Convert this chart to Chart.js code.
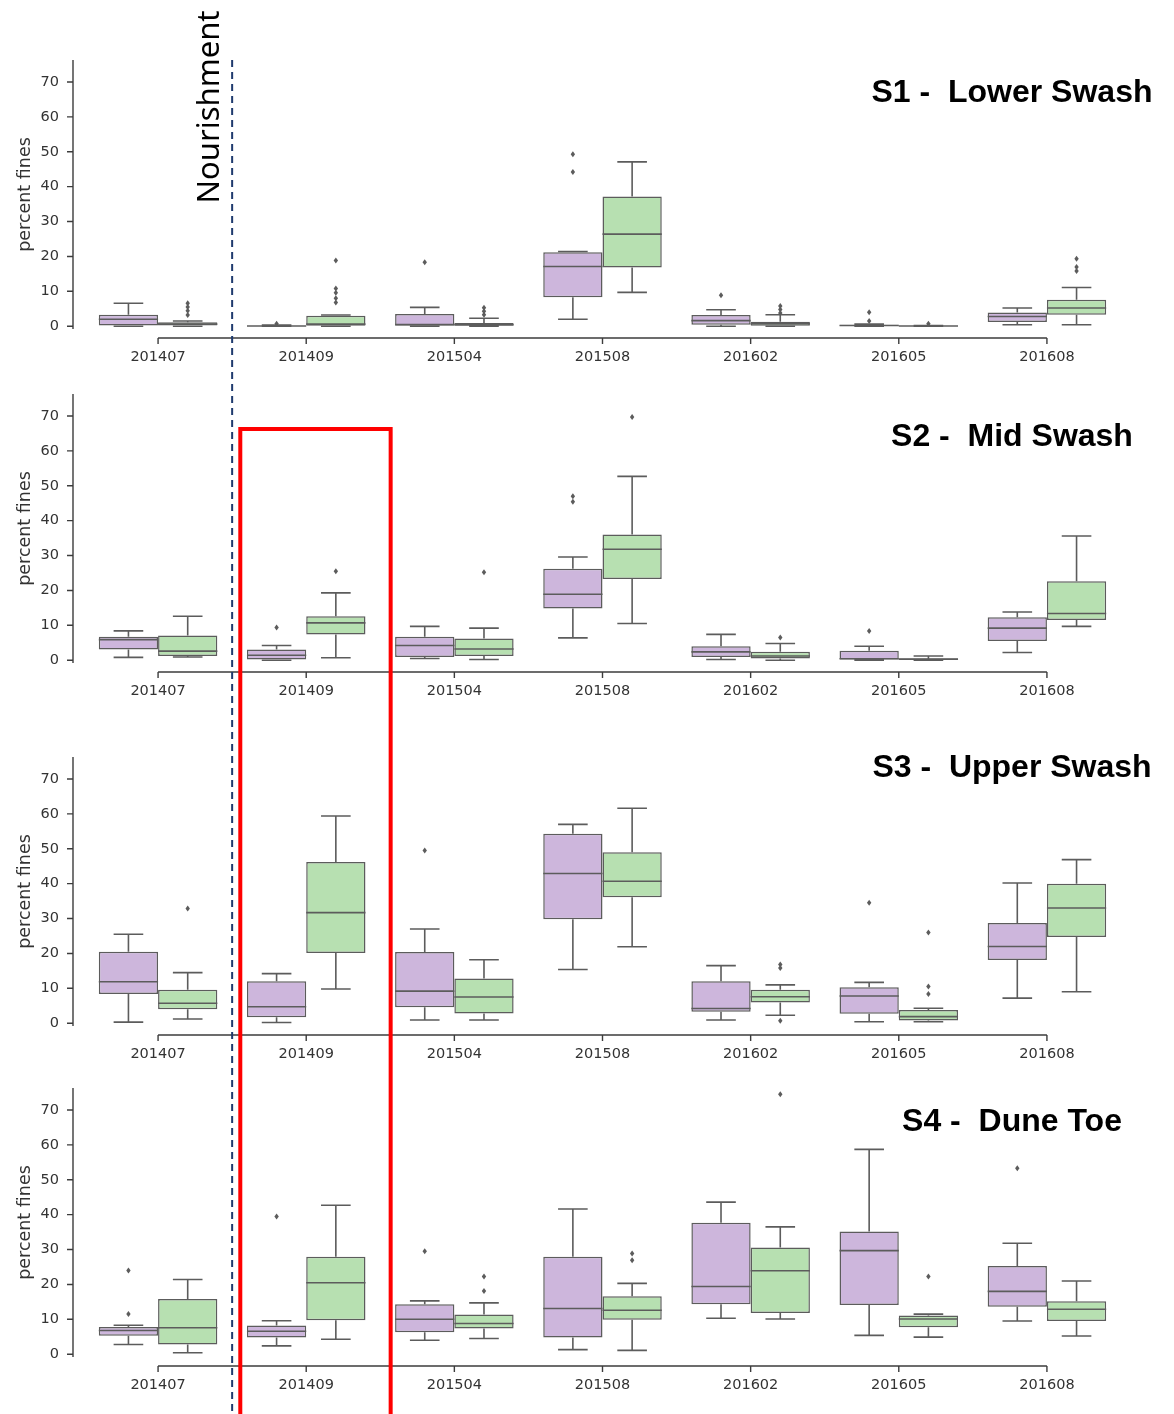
<!DOCTYPE html>
<html lang="en">
<head>
<meta charset="UTF-8">
<title>Percent fines by survey</title>
<script src="https://cdn.jsdelivr.net/npm/chart.js@4.4.1/dist/chart.umd.min.js"></script>
<style>
  html, body { margin: 0; padding: 0; background: #fff; }
  #page { position: relative; width: 1174px; height: 1414px; overflow: hidden; }
  .panel { position: absolute; left: 0; width: 1174px; height: 319px; }
  #overlay { position: absolute; left: 0; top: 0; pointer-events: none; }
</style>
</head>
<body>
<div id="page">
  <canvas id="overlay" width="1174" height="1414"></canvas>
</div>
<script>
// survey dates and y ticks
const dates = ['201407', '201409', '201504', '201508', '201602', '201605', '201608'];
const yTicks = [0, 10, 20, 30, 40, 50, 60, 70];
const panelNames = ['S1 -  Lower Swash', 'S2 -  Mid Swash', 'S3 -  Upper Swash', 'S4 -  Dune Toe'];

// box stats per survey: [whisker low, q1, median, q3, whisker high]
const s1A = [[0, 0.2, 2.0, 3.3, 6.6], [0, 0, 0.05, 0.15, 0.3], [0, 0.1, 0.5, 3.5, 5.4], [2.0, 8.3, 17.1, 21.2, 21.4], [0, 0.4, 1.6, 3.2, 4.7], [0, 0, 0.2, 0.4, 0.6], [0.4, 1.2, 2.8, 3.9, 5.2]];
const s1AOut = [[], [0.7], [18.3], [49.3, 44.2], [8.9], [4.0, 1.5], []];
const s1B = [[0, 0.2, 0.6, 1.1, 1.5], [0, 0.1, 0.6, 3.0, 3.2], [0, 0.1, 0.4, 0.9, 2.3], [9.7, 16.8, 26.4, 37.2, 47.1], [0, 0.1, 0.7, 1.3, 3.3], [0, 0, 0.05, 0.15, 0.2], [0.4, 3.3, 5.2, 7.6, 11.1]];
const s1BOut = [[6.6, 5.5, 4.4, 3.2], [18.8, 10.8, 9.6, 8.0, 6.8], [5.3, 4.3, 3.3], [], [5.8, 4.8, 3.8], [0.7], [19.3, 17.0, 15.8]];

const s2A = [[0.8, 3.1, 5.9, 6.7, 8.4], [0, 0.2, 1.4, 3.1, 4.2], [0.5, 0.9, 4.2, 6.7, 9.7], [6.4, 14.8, 18.9, 26.2, 29.6], [0.2, 0.9, 2.4, 4.0, 7.4], [0, 0.2, 0.4, 2.7, 4.0], [2.2, 5.5, 9.2, 12.3, 13.8]];
const s2AOut = [[], [9.4], [], [47.0, 45.4], [], [8.4], []];
const s2B = [[0.9, 1.2, 2.6, 7.1, 12.6], [0.7, 7.4, 10.7, 12.6, 19.3], [0.2, 1.2, 3.2, 6.2, 9.2], [10.5, 23.3, 31.8, 36.0, 52.7], [0, 0.5, 1.2, 2.4, 4.8], [0, 0.1, 0.3, 0.5, 1.2], [9.7, 11.5, 13.4, 22.6, 35.6]];
const s2BOut = [[], [25.5], [25.2], [69.7], [6.5], [], []];

const s3A = [[0.3, 8.4, 11.9, 20.5, 25.5], [0.2, 1.7, 4.7, 12.0, 14.2], [0.9, 4.6, 9.2, 20.4, 27.0], [15.4, 29.8, 42.9, 54.3, 57.0], [0.9, 3.3, 4.2, 12.0, 16.5], [0.4, 2.7, 7.8, 10.3, 11.7], [7.2, 18.1, 22.0, 28.7, 40.2]];
const s3AOut = [[], [], [49.5], [], [], [34.5], []];
const s3B = [[1.2, 4.0, 5.7, 9.6, 14.5], [9.8, 20.1, 31.7, 46.2, 59.4], [0.9, 2.8, 7.5, 12.8, 18.2], [21.9, 36.1, 40.7, 49.0, 61.6], [2.3, 5.9, 7.6, 9.6, 11.0], [0.4, 0.8, 1.9, 3.8, 4.3], [9.0, 24.7, 33.0, 40.0, 46.9]];
const s3BOut = [[32.9], [], [], [], [16.8, 15.8, 0.7], [26.0, 10.5, 8.4], []];

const s4A = [[2.8, 5.3, 6.8, 7.8, 8.3], [2.4, 4.8, 6.6, 8.2, 9.6], [4.0, 6.3, 10.0, 14.3, 15.3], [1.3, 4.8, 13.1, 27.9, 41.6], [10.3, 14.3, 19.4, 37.7, 43.6], [5.4, 14.1, 29.7, 35.2, 58.7], [9.5, 13.6, 18.0, 25.3, 31.8]];
const s4AOut = [[24.0, 11.5], [39.5], [29.5], [], [], [], [53.3]];
const s4B = [[0.4, 2.8, 7.6, 15.8, 21.4], [4.3, 9.7, 20.5, 27.9, 42.7], [4.5, 7.4, 8.8, 11.4, 14.7], [1.1, 9.9, 12.6, 16.6, 20.3], [10.1, 11.8, 23.9, 30.6, 36.5], [4.9, 7.7, 10.1, 11.1, 11.5], [5.2, 9.5, 12.9, 15.2, 21.0]];
const s4BOut = [[], [], [22.3, 18.1], [28.9, 26.9], [74.5], [22.3], []];

const panels = [
  {a: s1A, aOut: s1AOut, b: s1B, bOut: s1BOut},
  {a: s2A, aOut: s2AOut, b: s2B, bOut: s2BOut},
  {a: s3A, aOut: s3AOut, b: s3B, bOut: s3BOut},
  {a: s4A, aOut: s4AOut, b: s4B, bOut: s4BOut}
];

// layout / style
const PANEL_TOP = [50, 384, 747, 1078];
const TITLE_Y = [43, 53, 21, 44];
const FILL_A = '#cdb6dc';
const FILL_B = '#b7e0b1';
const EDGE = '#5c5c5c';
const AXIS = '#3c3c3c';

Chart.defaults.font.family = '"DejaVu Sans", sans-serif';

// whiskers, medians and fliers on top of the floating bars
const boxWhiskers = {
  id: 'boxWhiskers',
  afterDatasetsDraw(chart) {
    const ctx = chart.ctx;
    const y = chart.scales.y;
    chart.data.datasets.forEach((ds, d) => {
      const meta = chart.getDatasetMeta(d);
      meta.data.forEach((bar, i) => {
        const {x, width} = bar.getProps(['x', 'width'], true);
        const [lo, q1, med, q3, hi] = ds.stats[i];
        const yLo = y.getPixelForValue(lo), yQ1 = y.getPixelForValue(q1);
        const yMed = y.getPixelForValue(med), yQ3 = y.getPixelForValue(q3);
        const yHi = y.getPixelForValue(hi);
        ctx.save();
        ctx.strokeStyle = EDGE;
        ctx.lineWidth = 1.6;
        ctx.beginPath();
        ctx.moveTo(x, yQ3); ctx.lineTo(x, yHi);
        ctx.moveTo(x, yQ1); ctx.lineTo(x, yLo);
        ctx.moveTo(x - width / 4, yHi); ctx.lineTo(x + width / 4, yHi);
        ctx.moveTo(x - width / 4, yLo); ctx.lineTo(x + width / 4, yLo);
        ctx.moveTo(x - width / 2, yMed); ctx.lineTo(x + width / 2, yMed);
        ctx.stroke();
        ctx.fillStyle = EDGE;
        ds.fliers[i].forEach(v => {
          const py = y.getPixelForValue(v);
          ctx.beginPath();
          ctx.moveTo(x, py - 3);
          ctx.lineTo(x + 2.2, py);
          ctx.lineTo(x, py + 3);
          ctx.lineTo(x - 2.2, py);
          ctx.closePath();
          ctx.fill();
        });
        ctx.restore();
      });
    });
  }
};

// seaborn-like offset axes and the panel title
const offsetAxes = {
  id: 'offsetAxes',
  afterDraw(chart, args, opts) {
    const {ctx, chartArea: a, scales: {x, y}} = chart;
    ctx.save();
    ctx.strokeStyle = AXIS;
    ctx.lineWidth = 1.4;
    ctx.beginPath();
    const ax = a.left - 11;
    ctx.moveTo(ax, a.top); ctx.lineTo(ax, a.bottom);
    yTicks.forEach(v => {
      const py = y.getPixelForValue(v);
      ctx.moveTo(ax - 6, py); ctx.lineTo(ax, py);
    });
    const ay = a.bottom + 9;
    ctx.moveTo(x.getPixelForValue(0), ay);
    ctx.lineTo(x.getPixelForValue(dates.length - 1), ay);
    dates.forEach((d, i) => {
      const px = x.getPixelForValue(i);
      ctx.moveTo(px, ay); ctx.lineTo(px, ay + 6);
    });
    ctx.stroke();
    ctx.fillStyle = '#000';
    ctx.font = 'bold 32px "Liberation Sans", Arial, sans-serif';
    ctx.textAlign = 'center';
    ctx.textBaseline = 'middle';
    ctx.fillText(opts.title, 1012, opts.titleY);
    ctx.restore();
  }
};

const charts = panels.map((p, k) => {
  const wrap = document.createElement('div');
  wrap.className = 'panel';
  wrap.style.top = PANEL_TOP[k] + 'px';
  const cv = document.createElement('canvas');
  cv.width = 1174; cv.height = 319;
  wrap.appendChild(cv);
  document.getElementById('page').insertBefore(wrap, document.getElementById('overlay'));

  return new Chart(cv, {
    type: 'bar',
    data: {
      labels: dates,
      datasets: [
        {label: 'A', data: p.a.map(s => [s[1], s[3]]), stats: p.a, fliers: p.aOut,
         backgroundColor: FILL_A, borderColor: EDGE, borderWidth: 1.5, borderSkipped: false,
         categoryPercentage: 0.8, barPercentage: 1.0},
        {label: 'B', data: p.b.map(s => [s[1], s[3]]), stats: p.b, fliers: p.bOut,
         backgroundColor: FILL_B, borderColor: EDGE, borderWidth: 1.5, borderSkipped: false,
         categoryPercentage: 0.8, barPercentage: 1.0}
      ]
    },
    options: {
      responsive: false,
      animation: false,
      devicePixelRatio: 1,
      layout: {padding: {top: 10, right: 53, left: 0, bottom: 0}},
      scales: {
        x: {
          offset: true,
          grid: {display: false, drawTicks: false},
          border: {display: false},
          ticks: {padding: 20, color: '#333', font: {size: 14.5}, maxRotation: 0, autoSkip: false},
          afterFit: s => { s.height = 40; }
        },
        y: {
          min: -0.8,
          max: 76.3,
          afterBuildTicks: s => { s.ticks = yTicks.map(v => ({value: v})); },
          afterFit: s => { s.width = 84; },
          // invisible tick marks only push the labels left; the real axis is drawn by offsetAxes
          grid: {display: true, drawOnChartArea: false, drawTicks: true, tickLength: 25, color: 'rgba(0,0,0,0)'},
          border: {display: false},
          ticks: {padding: 0, color: '#333', font: {size: 14.5}},
          title: {display: true, text: 'percent fines', color: '#333', font: {size: 17.5}, padding: {top: 15, bottom: 0}}
        }
      },
      plugins: {
        legend: {display: false},
        tooltip: {enabled: false},
        offsetAxes: {title: panelNames[k], titleY: TITLE_Y[k]}
      }
    },
    plugins: [boxWhiskers, offsetAxes]
  });
});

// nourishment marker and red highlight of 201409 (S2-S4)
function drawOverlay() {
  const ctx = document.getElementById('overlay').getContext('2d');
  const xs = charts[1].scales.x;
  const xd = xs.getPixelForValue(0.5);
  const top = PANEL_TOP[0] + charts[0].chartArea.top;
  ctx.save();
  ctx.strokeStyle = '#1f3a6e';
  ctx.lineWidth = 2;
  ctx.setLineDash([7, 5]);
  ctx.beginPath();
  ctx.moveTo(xd, top); ctx.lineTo(xd, 1414);
  ctx.stroke();
  ctx.setLineDash([]);

  ctx.translate(xd - 22, 107);
  ctx.rotate(-Math.PI / 2);
  ctx.fillStyle = '#000';
  ctx.font = '31px "Noto Sans", sans-serif';
  ctx.textAlign = 'center';
  ctx.textBaseline = 'middle';
  ctx.fillText('Nourishment', 0, 0);
  ctx.restore();

  const yTop = PANEL_TOP[1] + charts[1].scales.y.getPixelForValue(66.3);
  const l = xs.getPixelForValue(0.555), r = xs.getPixelForValue(1.57);
  ctx.save();
  ctx.strokeStyle = '#ff0000';
  ctx.lineWidth = 4;
  ctx.beginPath();
  ctx.moveTo(l, 1420); ctx.lineTo(l, yTop); ctx.lineTo(r, yTop); ctx.lineTo(r, 1420);
  ctx.stroke();
  ctx.restore();
}
drawOverlay();
</script>
</body>
</html>
